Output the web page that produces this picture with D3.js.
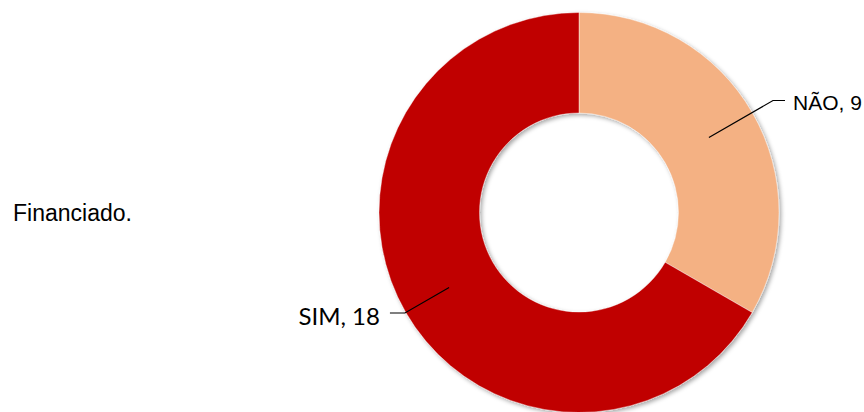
<!DOCTYPE html>
<html>
<head>
<meta charset="utf-8">
<script src="https://cdn.jsdelivr.net/npm/d3@7"></script>
<style>
  html, body { margin: 0; padding: 0; background: #fff; }
  svg { display: block; }
</style>
</head>
<body>
<div id="chart"></div>
<script>
// data
const categories = ["NÃO", "SIM"];
const values = [9, 18];
const colours = ["#F4B183", "#C00000"];
const title = "Financiado.";

const width = 864;
const height = 412;
const cx = 579;
const cy = 212.5;
const outerR = 200;
const innerR = 99.5;

const svg = d3
  .select("#chart")
  .append("svg")
  .attr("width", width)
  .attr("height", height);

// soft shadow like the office chart
const defs = svg.append("defs");
defs
  .append("filter")
  .attr("id", "shadow")
  .attr("x", "-20%")
  .attr("y", "-20%")
  .attr("width", "140%")
  .attr("height", "140%")
  .append("feDropShadow")
  .attr("dx", 2)
  .attr("dy", 2)
  .attr("stdDeviation", 2)
  .attr("flood-color", "#000")
  .attr("flood-opacity", 0.35);

const pie = d3.pie().sort(null).value((d) => d.value);
const arcs = pie(categories.map((c, i) => ({ name: c, value: values[i], colour: colours[i] })));

const arc = d3.arc().innerRadius(innerR).outerRadius(outerR);
const mid = d3.arc().innerRadius(150).outerRadius(150);

const g = svg.append("g").attr("transform", `translate(${cx},${cy})`);

g.append("g")
  .attr("filter", "url(#shadow)")
  .selectAll("path")
  .data(arcs)
  .join("path")
  .attr("d", arc)
  .attr("fill", (d) => d.data.colour)
  .attr("stroke", "#fff")
  .attr("stroke-width", 0.4);

// leader lines + labels
const elbowR = [224, 201];
const labelFont = ["'Liberation Sans', Arial, sans-serif", "Lato, 'Open Sans', sans-serif"];
const labelSize = [21, 24];
const labelDy = [9.5, 12];

arcs.forEach((d, i) => {
  const [x0, y0] = mid.centroid(d);
  const a = (d.startAngle + d.endAngle) / 2;
  const x1 = Math.sin(a) * elbowR[i];
  const y1 = -Math.cos(a) * elbowR[i];
  const right = x1 > 0;
  const x2 = x1 + (right ? 12 : -15);

  g.append("polyline")
    .attr("points", [[x0, y0], [x1, y1], [x2, y1]].map((p) => p.join(",")).join(" "))
    .attr("fill", "none")
    .attr("stroke", "#000")
    .attr("stroke-width", 1.2);

  g.append("text")
    .attr("x", x2 + (right ? 8 : -10))
    .attr("y", y1 + labelDy[i])
    .attr("text-anchor", right ? "start" : "end")
    .attr("font-family", labelFont[i])
    .attr("font-size", labelSize[i])
    .attr("fill", "#000")
    .text(`${d.data.name}, ${d.data.value}`);
});

svg
  .append("text")
  .attr("x", 13)
  .attr("y", 221)
  .attr("font-family", "'Liberation Sans', Arial, sans-serif")
  .attr("font-size", 23)
  .attr("fill", "#000")
  .text(title);
</script>
</body>
</html>
